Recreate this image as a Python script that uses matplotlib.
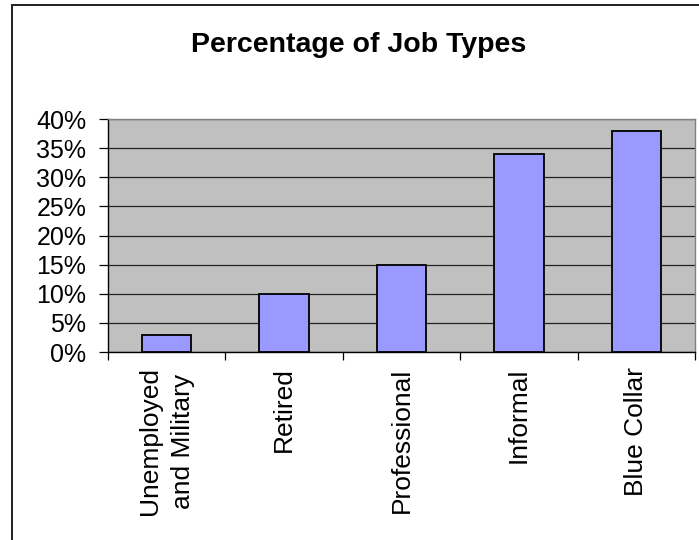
import matplotlib
matplotlib.use("Agg")
import matplotlib.pyplot as plt
from matplotlib.patches import Rectangle
from matplotlib.ticker import FixedLocator, FuncFormatter

# data
categories = ["Unemployed\nand Military", "Retired", "Professional", "Informal", "Blue Collar"]
percentages = [3, 10, 15, 34, 38]
y_ticks = [0, 5, 10, 15, 20, 25, 30, 35, 40]

plt.rcParams['font.family'] = ['Liberation Sans', 'DejaVu Sans']

fig = plt.figure(figsize=(6.99, 5.40), dpi=100)
ax = fig.add_axes([108 / 699, 1 - 352 / 540, (695 - 108) / 699, (352 - 119) / 540])

# outer chart border (runs off the right/bottom edge like the original)
fig.patches.append(Rectangle((12 / 699, -0.2), 1.2, 1.2 - 5 / 540,
                             transform=fig.transFigure, fill=False,
                             edgecolor="#202020", linewidth=1.4))

ax.set_facecolor("#C0C0C0")
x = list(range(len(categories)))
ax.bar(x, percentages, width=0.42, color="#9999FF", edgecolor="black",
       linewidth=1.3, zorder=3)

ax.set_xlim(-0.5, len(categories) - 0.5)
ax.set_ylim(0, 40)
ax.yaxis.set_major_locator(FixedLocator(y_ticks))
ax.yaxis.set_major_formatter(FuncFormatter(lambda v, p: f"{int(v)}%"))
ax.grid(axis="y", color="#222222", linewidth=0.9, zorder=1)

ax.set_xticks(x)
ax.set_xticklabels(categories, rotation=90, ha="center", va="top",
                   fontsize=19, multialignment="center", linespacing=1.45)
ax.set_xticks([i - 0.5 for i in range(len(categories) + 1)], minor=True)
ax.tick_params(axis="x", which="major", length=0, pad=11)
ax.tick_params(axis="x", which="minor", length=6, width=0.9, direction="out")
ax.tick_params(axis="y", length=6.5, width=0.9, direction="out",
               labelsize=18, pad=9)

for side in ["top", "right"]:
    ax.spines[side].set_color("#808080")
    ax.spines[side].set_linewidth(1.0)
for side in ["left", "bottom"]:
    ax.spines[side].set_color("black")
    ax.spines[side].set_linewidth(1.0)

fig.text(359 / 699, 1 - 52 / 540, "Percentage of Job Types", ha="center",
         va="baseline", fontsize=20.5, fontweight="bold")

fig.savefig("out.png", dpi=100, facecolor="white")
